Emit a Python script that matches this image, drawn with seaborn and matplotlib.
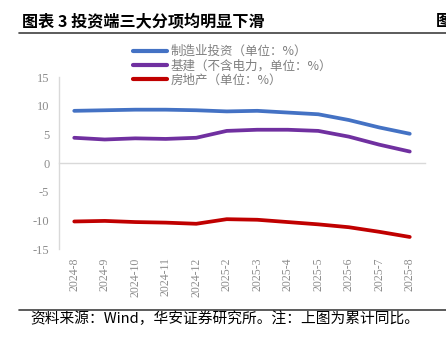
import matplotlib
matplotlib.use('Agg')
import matplotlib.pyplot as plt
from matplotlib.lines import Line2D
from matplotlib.ticker import FixedLocator
import seaborn as sns
import pandas as pd

dates = ['2024-8', '2024-9', '2024-10', '2024-11', '2024-12', '2025-2',
         '2025-3', '2025-4', '2025-5', '2025-6', '2025-7', '2025-8']
manufacturing = [9.1, 9.2, 9.3, 9.3, 9.2, 9.0, 9.1, 8.8, 8.5, 7.5, 6.2, 5.1]
infrastructure = [4.4, 4.1, 4.3, 4.2, 4.4, 5.6, 5.8, 5.8, 5.6, 4.6, 3.2, 2.0]
real_estate = [-10.2, -10.1, -10.3, -10.4, -10.6, -9.8, -9.9, -10.3, -10.7, -11.2, -12.0, -12.9]
series_names = ['制造业投资（单位：%）', '基建（不含电力，单位：%）', '房地产（单位：%）']
colors = ['#4472C4', '#7030A0', '#C00000']
yticks = [-15, -10, -5, 0, 5, 10, 15]
title = '图表 3 投资端三大分项均明显下滑'
source = '资料来源：Wind，华安证券研究所。注：上图为累计同比。'

sns.set_style('white')
plt.rcParams['font.family'] = ['Noto Sans CJK SC', 'DejaVu Sans']
plt.rcParams['axes.unicode_minus'] = False

df = pd.DataFrame({
    'date': dates * 3,
    'value': manufacturing + infrastructure + real_estate,
    'series': [series_names[0]] * len(dates) + [series_names[1]] * len(dates) + [series_names[2]] * len(dates),
})

W, H = 446, 349
fig = plt.figure(figsize=(W / 100, H / 100), dpi=100)
ax = fig.add_axes([59 / W, 1 - 249 / H, 366 / W, 172 / H])

sns.lineplot(data=df, x='date', y='value', hue='series', palette=colors,
             linewidth=2.7, sort=False, ax=ax, legend=True)

ax.set_xlim(-0.5, len(dates) - 0.5)
ax.set_ylim(-15, 15)
ax.set_xlabel('')
ax.set_ylabel('')

grey = '#d9d9d9'
for s in ['top', 'right']:
    ax.spines[s].set_visible(False)
ax.spines['left'].set_color(grey)
ax.spines['bottom'].set_color(grey)
ax.spines['left'].set_linewidth(1.0)
ax.spines['bottom'].set_linewidth(1.0)
ax.spines['bottom'].set_position(('data', 0))

ax.set_yticks(yticks)
ax.set_yticklabels([str(v) for v in yticks], family='Liberation Serif', fontsize=9, color='#8c8c8c')
ax.tick_params(axis='y', length=0, pad=7)

ax.set_xticks(range(len(dates)))
ax.set_xticklabels(dates, rotation=90, family='Liberation Serif', fontsize=8.5, color='#8c8c8c')
ax.tick_params(axis='x', which='major', length=0, pad=68)
ax.xaxis.set_minor_locator(FixedLocator([i + 0.5 for i in range(len(dates))]))
ax.tick_params(axis='x', which='minor', length=4, width=1, color=grey, direction='out')

handles, labels = ax.get_legend_handles_labels()
for h in handles:
    h.set_linewidth(3)
leg = ax.legend(handles, labels, loc='upper left', bbox_to_anchor=(133 / W, 1 - 45 / H),
                bbox_transform=fig.transFigure, frameon=False, fontsize=9,
                handlelength=2.7, handletextpad=0.3, labelspacing=0.1,
                borderpad=0, borderaxespad=0)
for t in leg.get_texts():
    t.set_color('#7f7f7f')

fig.text(22 / W, 1 - 21 / H, title, fontsize=11.6, fontweight='bold', color='black',
         ha='left', va='center')
fig.text(436 / W, 1 - 21 / H, '图', fontsize=11.6, fontweight='bold', color='black',
         ha='left', va='center')
fig.add_artist(Line2D([19 / W, 1], [1 - 32.5 / H] * 2, color='#404040', lw=1.2,
                      transform=fig.transFigure))
fig.add_artist(Line2D([19 / W, 1], [1 - 310 / H] * 2, color='#404040', lw=1.2,
                      transform=fig.transFigure))
fig.text(30 / W, 1 - 319 / H, source, fontsize=10.6, color='black', ha='left', va='center')

fig.savefig('out.png', dpi=100)
